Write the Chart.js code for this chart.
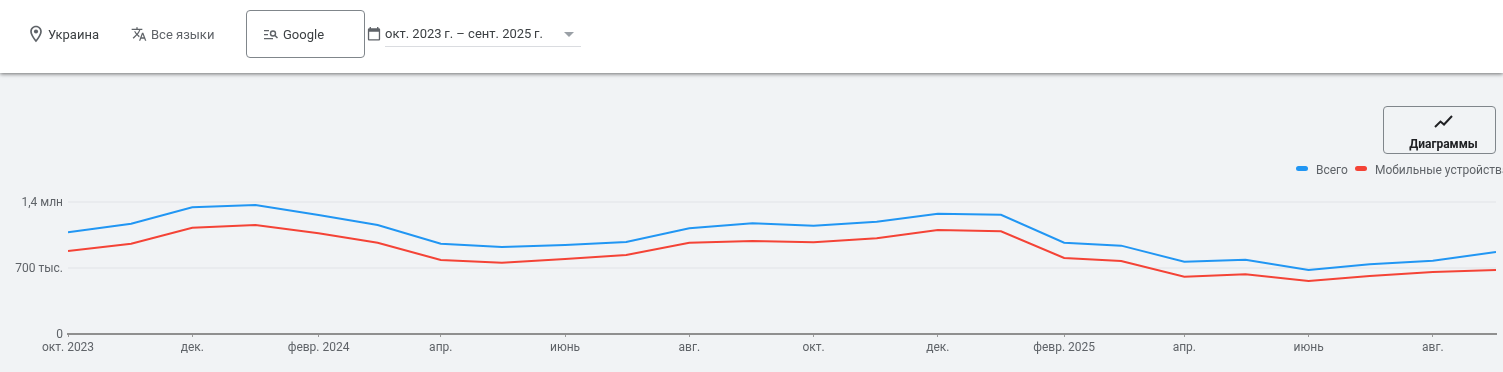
<!DOCTYPE html>
<html lang="ru">
<head>
<meta charset="utf-8">
<title>Trends</title>
<script src="https://cdn.jsdelivr.net/npm/chart.js@4"></script>
<style>
html, body { margin: 0; padding: 0; width: 1503px; height: 372px; overflow: hidden; background: #f1f3f5; font-family: Roboto, sans-serif; }
#header { position: absolute; left: 0; top: 0; width: 1503px; height: 73px; background: #fff; box-shadow: 0 1px 4px rgba(0,0,0,.55); z-index: 2; }
#header span, #header svg, #header div { position: absolute; }
.txt { font-size: 13px; line-height: 16px; white-space: nowrap; }
#googleBox { left: 246px; top: 10px; width: 117px; height: 46px; border: 1px solid #80868b; border-radius: 4px; }
#dateLine { left: 385px; top: 46px; width: 196px; height: 1px; background: #dadce0; }
#dateArrow { left: 564px; top: 32px; width: 0; height: 0; border-left: 5.5px solid transparent; border-right: 5.5px solid transparent; border-top: 5.5px solid #9aa0a6; }
#chart { position: absolute; left: 0; top: 0; }
#chartBtn { position: absolute; left: 1383px; top: 106px; width: 111px; height: 46px; border: 1px solid #80868b; border-radius: 4px; }
#chartBtn svg { position: absolute; left: 50px; top: 5px; }
#chartBtn span { position: absolute; left: 4px; width: 111px; top: 29px; text-align: center; font-size: 12px; font-weight: 700; line-height: 16px; color: #202124; }
#legend { position: absolute; left: 1296px; top: 162px; height: 16px; white-space: nowrap; font-size: 12px; line-height: 16px; color: #5f6368; }
#legend i { position: absolute; top: 4px; width: 12px; height: 5px; border-radius: 3px; }
#legend span { position: absolute; top: 0; }
</style>
</head>
<body>
<div id="header">
  <svg style="left:26px;top:24px" width="20" height="20" viewBox="0 0 24 24"><path fill="#5f6368" d="M12 2C8.100 2 5 5.100 5 9c0 5.200 7 13 7 13s7-7.800 7-13c0-3.900-3.100-7-7-7zm0 17c-2-2.600-5-7-5-10 0-2.800 2.200-5 5-5s5 2.200 5 5c0 3-3 7.400-5 10z"/><circle fill="#5f6368" cx="12" cy="9" r="2.500"/></svg>
  <span class="txt" style="left:48px;top:27px;color:#3c4043">Украина</span>
  <svg style="left:131px;top:26px" width="16" height="16" viewBox="0 0 24 24"><path fill="#5f6368" d="M12.900 15.100l-2.600-2.500c1.800-2 3-4.200 3.700-6.600H17V4h-7V2H8v2H1v2h11.200c-.7 1.900-1.700 3.800-3.200 5.400-1-1-1.800-2.200-2.400-3.400h-2c.7 1.600 1.700 3.200 3 4.600l-5.100 5L4 19l5-5 3.100 3.100.8-2zM18.500 10h-2L12 22h2l1.100-3h4.800l1.100 3h2l-4.500-12zm-2.600 7l1.600-4.300 1.600 4.300h-3.200z"/></svg>
  <span class="txt" style="left:151px;top:27px;color:#5f6368">Все языки</span>
  <div id="googleBox"></div>
  <svg style="left:264px;top:29px" width="15" height="12" viewBox="0 0 15 12"><path fill="#5f6368" d="M0 1h5v1.300H0zM0 5h4v1.300H0zM0 9h9v1.300H0z"/><circle cx="9" cy="4.500" r="2.500" fill="none" stroke="#5f6368" stroke-width="1.400"/><path stroke="#5f6368" stroke-width="1.500" d="M11 6.500l2.500 2.500"/></svg>
  <span class="txt" style="left:283px;top:27px;color:#3c4043">Google</span>
  <svg style="left:367px;top:26px" width="14" height="15" viewBox="0 0 16 17"><path fill="#5f6368" d="M13.500 2.500H13V1h-1.500v1.500h-7V1H3v1.500h-.5C1.700 2.500 1 3.200 1 4v11c0 .8.700 1.500 1.500 1.500h11c.8 0 1.500-.7 1.500-1.500V4c0-.8-.7-1.500-1.500-1.500zm0 12.500h-11V6.500h11V15z"/></svg>
  <span class="txt" style="left:385px;top:26px;color:#3c4043">окт. 2023&#8201;г. – сент. 2025&#8201;г.</span>
  <div id="dateLine"></div>
  <div id="dateArrow"></div>
</div>
<canvas id="chart" width="1503" height="372"></canvas>
<div id="chartBtn">
  <svg width="20" height="20" viewBox="0 0 20 20"><path fill="none" stroke="#202124" stroke-width="2" d="M1 15l5.500-5.500 3.500 3L18 4"/></svg>
  <span>Диаграммы</span>
</div>
<div id="legend"></div>
<script>
const months = ['2023-10-01','2023-11-01','2023-12-01','2024-01-01','2024-02-01','2024-03-01','2024-04-01','2024-05-01','2024-06-01','2024-07-01','2024-08-01','2024-09-01','2024-10-01','2024-11-01','2024-12-01','2025-01-01','2025-02-01','2025-03-01','2025-04-01','2025-05-01','2025-06-01','2025-07-01','2025-08-01','2025-09-01'];
const totalValues = [1079000,1170000,1344000,1368000,1262000,1156000,958000,923000,944000,976000,1121000,1174000,1149000,1191000,1276000,1265000,968000,937000,767000,788000,679000,739000,777000,870000];
const mobileValues = [880000,958000,1127000,1156000,1068000,968000,785000,756000,795000,838000,968000,986000,972000,1015000,1103000,1089000,806000,774000,608000,633000,562000,615000,658000,679000];
const seriesNames = ['Всего', 'Мобильные устройства'];
const seriesColors = ['#2196f3', '#f44336'];
const xTickDates = ['2023-10-01','2023-12-01','2024-02-01','2024-04-01','2024-06-01','2024-08-01','2024-10-01','2024-12-01','2025-02-01','2025-04-01','2025-06-01','2025-08-01'];
const xTickLabels = ['окт. 2023','дек.','февр. 2024','апр.','июнь','авг.','окт.','дек.','февр. 2025','апр.','июнь','авг.'];
const yTickValues = [0, 700000, 1400000];
const yTickLabels = ['0', '700 тыс.', '1,4 млн'];

const toTime = s => new Date(s).getTime();
const toPoints = vals => vals.map((v, i) => ({ x: toTime(months[i]), y: v }));

// legend lives outside the canvas, it runs off the right edge in the original
const legend = document.getElementById('legend');
[0, 59].forEach((left, i) => {
    const mark = document.createElement('i');
    mark.style.left = left + 'px';
    mark.style.background = seriesColors[i];
    const label = document.createElement('span');
    label.style.left = (left + 20) + 'px';
    label.textContent = seriesNames[i];
    legend.appendChild(mark);
    legend.appendChild(label);
});

new Chart(document.getElementById('chart').getContext('2d'), {
    type: 'line',
    data: {
        datasets: [
            { label: seriesNames[0], data: toPoints(totalValues), borderColor: seriesColors[0], borderWidth: 2, pointRadius: 0, tension: 0 },
            { label: seriesNames[1], data: toPoints(mobileValues), borderColor: seriesColors[1], borderWidth: 2, pointRadius: 0, tension: 0 }
        ]
    },
    options: {
        responsive: false,
        animation: false,
        layout: { padding: { top: 202, right: 7, left: 0, bottom: 0 } },
        plugins: { legend: { display: false }, tooltip: { enabled: false } },
        scales: {
            x: {
                type: 'linear',
                min: toTime(months[0]),
                max: toTime(months[months.length - 1]),
                afterBuildTicks: axis => { axis.ticks = xTickDates.map(d => ({ value: toTime(d) })); },
                afterFit: axis => { axis.height = 38; },
                border: { color: '#8f8f8f', width: 2 },
                grid: { drawOnChartArea: false, drawTicks: true, tickLength: 3, tickWidth: 1, tickColor: '#9a9a9a' },
                ticks: {
                    autoSkip: false, maxRotation: 0, minRotation: 0, padding: 4,
                    color: '#5f6368',
                    font: { family: 'Roboto', size: 12 },
                    callback: value => xTickLabels[xTickDates.findIndex(d => toTime(d) === value)]
                }
            },
            y: {
                min: 0,
                max: 1400000,
                afterBuildTicks: axis => { axis.ticks = yTickValues.map(v => ({ value: v })); },
                afterFit: axis => { axis.width = 68; },
                border: { display: false },
                grid: { drawTicks: false, lineWidth: 2, color: ctx => ctx.tick && ctx.tick.value === 0 ? 'rgba(0,0,0,0)' : '#e9ebee' },
                ticks: {
                    padding: 5,
                    labelOffset: 1,
                    color: '#5f6368',
                    font: { family: 'Roboto', size: 12 },
                    callback: value => yTickLabels[yTickValues.indexOf(value)]
                }
            }
        }
    }
});
</script>
</body>
</html>
